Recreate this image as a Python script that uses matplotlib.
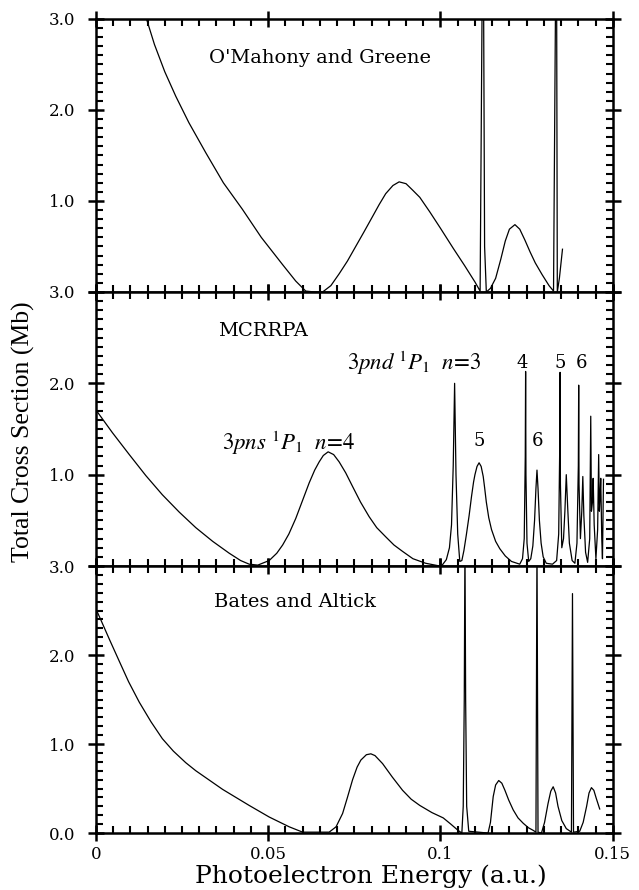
import matplotlib
matplotlib.use("Agg")
import matplotlib.pyplot as plt
from matplotlib.ticker import MultipleLocator

plt.rcParams['mathtext.fontset'] = 'stix'

# O'Mahony and Greene (top panel)
og_x = [0.0147, 0.017, 0.0200, 0.0232, 0.027, 0.0319, 0.037, 0.0425, 0.048,
        0.0542, 0.058, 0.0609, 0.0635, 0.0658, 0.0682, 0.0706, 0.073, 0.0754,
        0.0778, 0.0803, 0.0822, 0.0841, 0.0862, 0.088, 0.09, 0.0919, 0.094,
        0.0969, 0.1, 0.1037, 0.107, 0.110, 0.1115, 0.1121, 0.1125, 0.1128,
        0.1133, 0.1145, 0.1160, 0.1175, 0.1188, 0.1200, 0.1216, 0.1230, 0.1245,
        0.1260, 0.1275, 0.1295, 0.1315, 0.1328, 0.1334, 0.1337, 0.1339, 0.1345,
        0.1354]
og_y = [3.0, 2.72, 2.42, 2.15, 1.86, 1.53, 1.20, 0.91, 0.60,
        0.30, 0.12, 0.01, 0.0, 0.0, 0.07, 0.2, 0.34, 0.5,
        0.66, 0.83, 0.96, 1.08, 1.17, 1.21, 1.19, 1.12, 1.04,
        0.88, 0.70, 0.48, 0.29, 0.11, 0.01, 3.3, 3.3, 0.5,
        0.0, 0.04, 0.15, 0.36, 0.56, 0.69, 0.74, 0.69, 0.57,
        0.44, 0.32, 0.19, 0.07, 0.01, 3.3, 3.3, 0.0, 0.15,
        0.47]

# MCRRPA (middle panel)
mc_x = [0.0, 0.0048, 0.0097, 0.0145, 0.0193, 0.0242, 0.029, 0.0339, 0.0387,
        0.042, 0.0445, 0.047, 0.0503, 0.0525, 0.0542, 0.056, 0.058, 0.060,
        0.0619, 0.0635, 0.0648, 0.066, 0.0674, 0.069, 0.0706, 0.0725, 0.0745,
        0.0768, 0.0793, 0.0815, 0.0841, 0.0865, 0.089, 0.092, 0.0957, 0.0998,
        0.1005, 0.1017, 0.1026, 0.1032, 0.1037, 0.1041, 0.1045, 0.1050, 0.1056,
        0.1062, 0.1068, 0.1075, 0.1083, 0.109, 0.1096, 0.11, 0.1106, 0.1112,
        0.1118, 0.1124, 0.1128, 0.1133, 0.1140, 0.1148, 0.1160, 0.1172, 0.1188,
        0.1206, 0.123, 0.1238, 0.1243, 0.1246, 0.1247, 0.1248, 0.1251, 0.1256,
        0.1262, 0.1268, 0.1273, 0.1277, 0.1280, 0.1283, 0.1287, 0.1292, 0.1298,
        0.1307, 0.1325, 0.1337, 0.1343, 0.1346, 0.1347, 0.1348, 0.1352, 0.1357,
        0.1361, 0.1365, 0.1369, 0.1374, 0.1382, 0.1390, 0.1396, 0.1400, 0.1401,
        0.1402, 0.1406, 0.1410, 0.1413, 0.1416, 0.1421, 0.1427, 0.1433, 0.1436,
        0.1438, 0.1441, 0.1443, 0.1446, 0.1451, 0.1456, 0.1459, 0.1461, 0.1463,
        0.1465, 0.1468, 0.1470, 0.1473]
mc_y = [1.71, 1.46, 1.22, 0.99, 0.78, 0.59, 0.42, 0.27, 0.14,
        0.06, 0.02, 0.01, 0.06, 0.14, 0.23, 0.35, 0.52, 0.72,
        0.91, 1.05, 1.14, 1.21, 1.25, 1.22, 1.14, 1.02, 0.87,
        0.70, 0.54, 0.42, 0.32, 0.23, 0.16, 0.08, 0.03, 0.0,
        0.01, 0.07, 0.2, 0.45, 1.1, 2.0, 1.0, 0.35, 0.05,
        0.06, 0.17, 0.34, 0.55, 0.76, 0.92, 1.0, 1.09, 1.13,
        1.09, 0.98, 0.86, 0.7, 0.53, 0.40, 0.27, 0.19, 0.11,
        0.05, 0.02, 0.08, 0.3, 1.2, 2.13, 1.0, 0.25, 0.05,
        0.08, 0.22, 0.5, 0.85, 1.05, 0.85, 0.5, 0.25, 0.1,
        0.03, 0.02, 0.06, 0.35, 1.3, 2.12, 0.9, 0.2, 0.3,
        0.6, 1.0, 0.65, 0.25, 0.06, 0.03, 0.25, 1.1, 1.98,
        0.9, 0.3, 0.6, 0.98, 0.55, 0.15, 0.04, 0.3, 1.64,
        0.6, 0.7, 0.96, 0.45, 0.08, 0.4, 1.22, 0.6, 0.75,
        0.96, 0.3, 0.08, 0.95]

# Bates and Altick (bottom panel)
ba_x = [0.0, 0.0015, 0.004, 0.0068, 0.0095, 0.0126, 0.016, 0.0193, 0.0225,
        0.0261, 0.029, 0.0368, 0.0445, 0.0503, 0.0561, 0.06, 0.0677, 0.0697,
        0.0716, 0.073, 0.0745, 0.0758, 0.0769, 0.0785, 0.0798, 0.081, 0.0832,
        0.086, 0.089, 0.0915, 0.094, 0.0975, 0.1008, 0.103, 0.1051, 0.1062,
        0.1066, 0.1069, 0.1071, 0.1073, 0.1076, 0.1082, 0.1138, 0.1145, 0.1153,
        0.1160, 0.1169, 0.1178, 0.1187, 0.1198, 0.1211, 0.1225, 0.124, 0.1255,
        0.1269, 0.1277, 0.1280, 0.1283, 0.1293, 0.1302, 0.1312, 0.1320, 0.1327,
        0.1334, 0.1341, 0.1352, 0.1365, 0.1380, 0.1383, 0.1386, 0.1404, 0.1414,
        0.1424, 0.1431, 0.1438, 0.1445, 0.1452, 0.1462]
ba_y = [2.52, 2.39, 2.17, 1.93, 1.70, 1.47, 1.25, 1.06, 0.92,
        0.79, 0.70, 0.49, 0.31, 0.18, 0.07, 0.01, 0.01, 0.07,
        0.22, 0.4, 0.6, 0.74, 0.82, 0.88, 0.89, 0.87, 0.78,
        0.63, 0.48, 0.38, 0.31, 0.23, 0.17, 0.1, 0.03, 0.0,
        0.3, 1.5, 3.3, 1.5, 0.3, 0.02, 0.0, 0.12, 0.41,
        0.54, 0.59, 0.56, 0.48, 0.37, 0.26, 0.17, 0.11, 0.06,
        0.03, 0.01, 3.3, 0.01, 0.0, 0.12, 0.33, 0.47, 0.52,
        0.45, 0.30, 0.14, 0.05, 0.01, 2.69, 0.01, 0.02, 0.12,
        0.3, 0.45, 0.51, 0.48, 0.39, 0.27]

panel_names = ["O'Mahony and Greene", "MCRRPA", "Bates and Altick"]
xtick_vals = [0, 0.05, 0.1, 0.15]
xtick_labels = ['0', '0.05', '0.1', '0.15']
ytick_vals = [0, 1, 2, 3]

fig = plt.figure(figsize=(6.39, 8.9), dpi=100)
gs = fig.add_gridspec(3, 1, height_ratios=[273, 274, 267], hspace=0,
                      left=0.150, right=0.959, top=0.9787, bottom=0.064)
axes = [fig.add_subplot(gs[i]) for i in range(3)]

data = [(og_x, og_y), (mc_x, mc_y), (ba_x, ba_y)]
name_pos = [(0.065, 2.57), (0.0485, 2.57), (0.0577, 2.6)]

for i, ax in enumerate(axes):
    x, y = data[i]
    ax.plot(x, y, color='black', lw=0.9)
    ax.set_xlim(0, 0.15)
    ax.set_ylim(0, 3)
    ax.xaxis.set_major_locator(MultipleLocator(0.05))
    ax.xaxis.set_minor_locator(MultipleLocator(0.005))
    ax.yaxis.set_major_locator(MultipleLocator(1))
    ax.yaxis.set_minor_locator(MultipleLocator(0.1))
    ax.tick_params(which='major', direction='inout', length=11, width=1.8,
                   top=True, right=True, labelsize=12)
    ax.tick_params(axis='y', which='major', pad=9)
    ax.tick_params(which='minor', direction='in', length=5, width=1.5,
                   top=True, right=True)
    for sp in ax.spines.values():
        sp.set_linewidth(1.8)
    ax.set_yticks(ytick_vals)
    if i < 2:
        ax.set_yticklabels(['', '1.0', '2.0', '3.0'])
        ax.set_xticklabels([])
    else:
        ax.set_yticklabels(['0.0', '1.0', '2.0', '3.0'])
        ax.set_xticks(xtick_vals)
        ax.set_xticklabels(xtick_labels)
    for lab in ax.get_yticklabels() + ax.get_xticklabels():
        lab.set_family('DejaVu Serif')
    ax.text(name_pos[i][0], name_pos[i][1], panel_names[i], ha='center',
            va='center', family='DejaVu Serif', fontsize=14)

mid = axes[1]
mid.text(0.0558, 1.35, r"$3pns\ {}^1P_1\ \ n\!=\!4$", ha='center', va='center', fontsize=16.5)
mid.text(0.0925, 2.22, r"$3pnd\ {}^1P_1\ \ n\!=\!3$", ha='center', va='center', fontsize=16.5)
for xv, lab in [(0.1238, '4'), (0.1348, '5'), (0.1409, '6')]:
    mid.text(xv, 2.22, lab, ha='center', va='center', family='DejaVu Serif', fontsize=13)
for xv, lab in [(0.1111, '5'), (0.1281, '6')]:
    mid.text(xv, 1.37, lab, ha='center', va='center', family='DejaVu Serif', fontsize=13)

fig.text(0.037, 0.5146, 'Total Cross Section (Mb)', rotation=90, ha='center',
         va='center', family='Liberation Serif', fontsize=18.5)
fig.text(0.58, 0.015, 'Photoelectron Energy (a.u.)', ha='center', va='center',
         family='DejaVu Serif', fontsize=18)

fig.savefig('out.png', dpi=100)
